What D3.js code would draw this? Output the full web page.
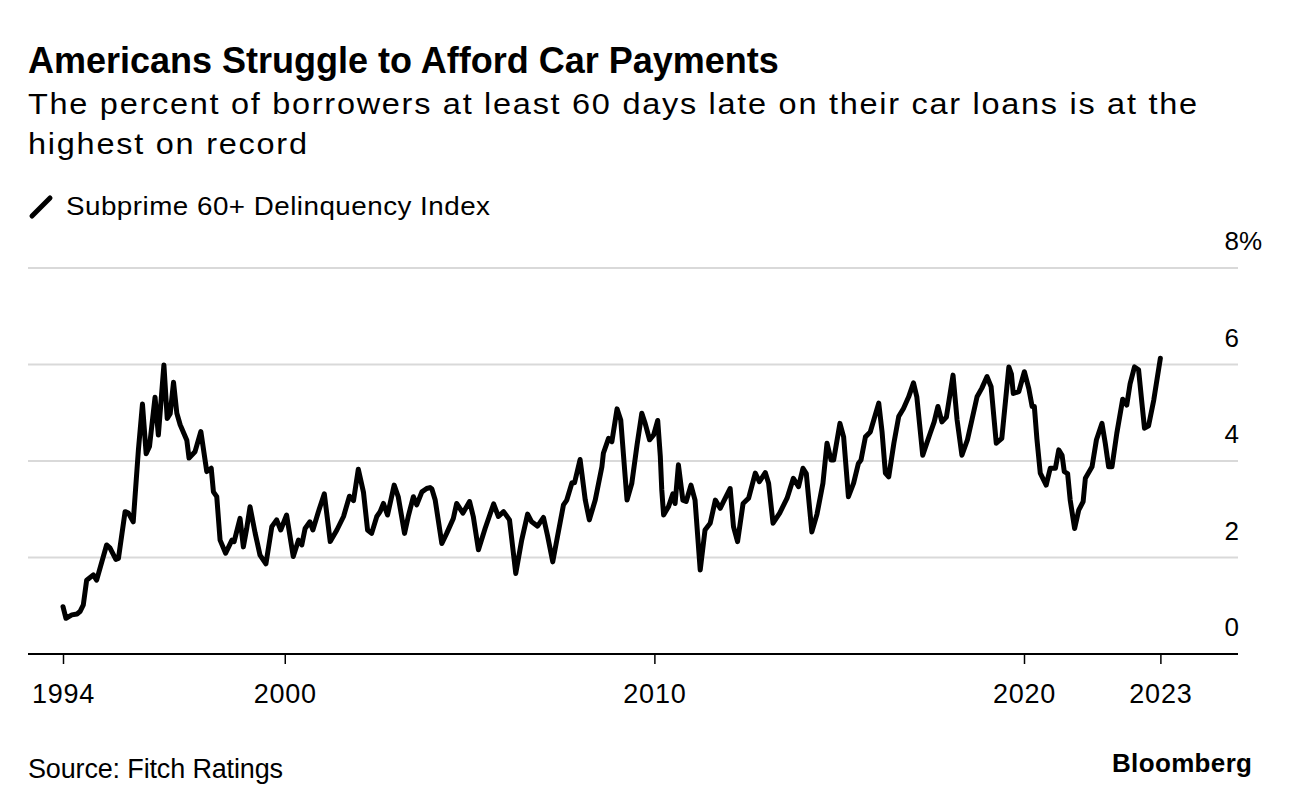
<!DOCTYPE html>
<html>
<head>
<meta charset="utf-8">
<script src="https://cdn.jsdelivr.net/npm/d3@7"></script>
<style>
  html, body { margin: 0; padding: 0; background: #fff; }
  svg { display: block; }
  text { font-family: "Liberation Sans", Arial, Helvetica, sans-serif; fill: #000; }
</style>
</head>
<body>
<svg id="chart" width="1292" height="810"></svg>
<script>
// ---- Data ----
const years = [
  1994.00,1994.08,1994.24,1994.38,1994.46,1994.55,1994.64,1994.82,1994.91,1995.18,1995.27,1995.43,1995.50,1995.68,1995.77,1995.90,
  1996.04,1996.15,1996.25,1996.34,1996.49,1996.58,1996.73,1996.82,1996.90,1996.99,1997.08,1997.17,1997.35,1997.41,1997.57,1997.73,1997.89,
  1998.01,1998.07,1998.16,1998.25,1998.40,1998.57,1998.63,1998.79,1998.88,1998.97,1999.06,1999.20,1999.33,1999.49,1999.65,1999.78,1999.89,
  2000.05,2000.23,2000.37,2000.46,2000.55,2000.68,2000.76,2000.91,2001.07,2001.23,2001.41,2001.59,2001.75,2001.86,2001.99,
  2002.13,2002.24,2002.35,2002.49,2002.58,2002.67,2002.78,2002.96,2003.07,2003.24,2003.35,2003.48,2003.57,2003.71,2003.84,2003.93,
  2003.98,2004.07,2004.25,2004.38,2004.56,2004.65,2004.82,2005.00,2005.10,2005.24,2005.42,2005.65,2005.78,2005.92,
  2006.08,2006.25,2006.41,2006.57,2006.68,2006.84,2007.00,2007.11,2007.25,2007.36,2007.54,2007.63,2007.77,2007.84,2007.99,
  2008.13,2008.24,2008.40,2008.58,2008.62,2008.76,2008.85,2008.99,2009.09,2009.21,2009.26,2009.39,2009.53,2009.66,2009.75,2009.87,2009.98,
  2010.09,2010.16,2010.20,2010.25,2010.38,2010.50,2010.56,2010.65,2010.77,2010.86,2010.99,2011.10,2011.24,2011.37,2011.51,2011.65,2011.78,2011.87,
  2012.05,2012.14,2012.25,2012.40,2012.55,2012.73,2012.84,2013.00,2013.09,2013.21,2013.39,2013.59,2013.76,2013.90,
  2014.02,2014.11,2014.26,2014.40,2014.56,2014.67,2014.78,2014.85,2015.02,2015.12,2015.25,2015.39,2015.52,2015.59,2015.71,2015.84,
  2016.07,2016.16,2016.25,2016.34,2016.48,2016.61,2016.74,2016.88,2017.01,2017.10,2017.26,2017.37,2017.46,2017.57,2017.67,2017.78,2017.90,
  2018.08,2018.19,2018.32,2018.47,2018.59,2018.73,2018.86,2019.00,2019.11,2019.25,2019.40,2019.59,2019.66,2019.71,2019.86,
  2020.01,2020.13,2020.22,2020.28,2020.35,2020.44,2020.60,2020.71,2020.85,2020.94,2021.03,2021.09,2021.18,2021.25,2021.37,2021.48,2021.60,2021.66,2021.84,2021.96,
  2022.11,2022.20,2022.29,2022.38,2022.51,2022.67,2022.78,2022.87,2022.99,2023.10,2023.19,2023.26,2023.37,2023.51,2023.69
];
const delinquency = [
  0.98,0.74,0.81,0.83,0.88,1.02,1.53,1.64,1.53,2.26,2.20,1.96,1.98,2.95,2.92,2.74,
  4.23,5.18,4.15,4.30,5.32,4.54,5.99,4.88,4.98,5.63,4.99,4.75,4.43,4.06,4.19,4.61,3.78,
  3.85,3.36,3.26,2.36,2.09,2.36,2.33,2.81,2.22,2.60,3.05,2.50,2.05,1.87,2.64,2.78,2.57,
  2.88,2.02,2.36,2.26,2.60,2.74,2.57,2.95,3.32,2.33,2.57,2.85,3.27,3.18,3.83,
  3.35,2.57,2.50,2.85,2.95,3.12,2.88,3.50,3.26,2.50,2.88,3.26,3.09,3.36,3.43,3.45,
  3.42,3.19,2.29,2.50,2.81,3.12,2.92,3.16,2.85,2.16,2.60,3.11,2.85,2.95,
  2.78,1.67,2.36,2.90,2.74,2.65,2.83,2.45,1.91,2.36,3.09,3.19,3.55,3.55,4.03,
  3.19,2.78,3.19,3.88,4.16,4.47,4.40,5.08,4.85,3.67,3.19,3.54,4.33,4.99,4.78,4.44,4.54,
  4.84,4.10,3.40,2.88,3.05,3.32,3.12,3.92,3.19,3.16,3.50,3.19,1.74,2.57,2.71,3.19,3.02,3.16,
  3.43,2.64,2.33,3.12,3.23,3.75,3.57,3.76,3.54,2.71,2.92,3.23,3.64,3.47,
  3.85,3.74,2.53,2.90,3.54,4.37,4.02,4.02,4.78,4.50,3.26,3.54,3.95,4.02,4.50,4.60,
  5.20,4.60,3.75,3.67,4.37,4.92,5.09,5.33,5.62,5.33,4.12,4.37,4.57,4.81,5.13,4.81,4.91,
  5.78,4.85,4.12,4.44,4.85,5.33,5.51,5.75,5.54,4.37,4.47,5.95,5.80,5.40,5.44,
  5.85,5.50,5.13,5.13,4.45,3.75,3.50,3.85,3.85,4.23,4.12,3.78,3.74,3.19,2.60,2.98,3.16,3.64,3.88,4.44,
  4.78,4.36,3.88,3.88,4.57,5.28,5.16,5.60,5.95,5.89,5.20,4.68,4.73,5.26,6.13
];
const yTicks = [0, 2, 4, 6, 8];
const xTickYears = [1994, 2000, 2010, 2020];
const lastTickLabel = "2023";

const titleText = "Americans Struggle to Afford Car Payments";
const subtitleLines = ["The percent of borrowers at least 60 days late on their car loans is at the", "highest on record"];
const legendText = "Subprime 60+ Delinquency Index";
const sourceText = "Source: Fitch Ratings";
const brandText = "Bloomberg";

// ---- Layout ----
const svg = d3.select("#chart");
const plotLeft = 28, plotRight = 1238;
const x = d3.scaleLinear().domain([1994, 2020]).range([63, 1024]);
const y = d3.scaleLinear().domain([0, 8]).range([654, 268]);

const data = years.map((yr, i) => ({ yr, v: delinquency[i] }));
const lastYr = years[years.length - 1];

// Title block
svg.append("text").attr("x", 28).attr("y", 73)
  .style("font-size", "36px").style("font-weight", "bold").text(titleText);

// wide-grotesque look: slight horizontal stretch plus tracking
const stretch = 1.12;
const subWidths = [1169, 279];
subtitleLines.forEach((t, i) => {
  svg.append("text")
    .attr("transform", `translate(28,${114 + i * 40}) scale(${stretch},1)`)
    .style("font-size", "29px")
    .attr("textLength", subWidths[i] / stretch).attr("lengthAdjust", "spacing")
    .text(t);
});

// Legend
svg.append("line").attr("x1", 32).attr("y1", 216).attr("x2", 50).attr("y2", 198)
  .attr("stroke", "#000").attr("stroke-width", 5).attr("stroke-linecap", "round");
const legStretch = 1.07;
svg.append("text")
  .attr("transform", `translate(66,215) scale(${legStretch},1)`)
  .style("font-size", "26px")
  .attr("textLength", 424 / legStretch).attr("lengthAdjust", "spacing").text(legendText);

// Grid lines
svg.append("g").selectAll("line").data(yTicks.filter(d => d > 0)).join("line")
  .attr("x1", plotLeft).attr("x2", plotRight)
  .attr("y1", d => y(d)).attr("y2", d => y(d))
  .attr("stroke", "#d9d9d9").attr("stroke-width", 2);

// Y labels (digit right-aligned, % hanging out)
const yl = svg.append("g").selectAll("g").data(yTicks).join("g");
yl.append("text")
  .attr("x", 1239).attr("y", d => y(d) - 18)
  .attr("text-anchor", "end").style("font-size", "26px")
  .text(d => d);
yl.filter(d => d === 8).append("text")
  .attr("x", 1239).attr("y", d => y(d) - 18)
  .style("font-size", "26px").text("%");

// X axis
const xTickVals = xTickYears.concat([lastYr]);
const xAxis = d3.axisBottom(x).tickValues(xTickVals).tickSize(10).tickPadding(0)
  .tickFormat(d => d === lastYr ? lastTickLabel : String(d));
const gx = svg.append("g").attr("transform", `translate(0,${y(0)})`).call(xAxis);
gx.select(".domain").remove();
gx.selectAll(".tick line").attr("stroke", "#000").attr("stroke-width", 1.5);
gx.selectAll(".tick text")
  .attr("y", 49).attr("dy", null)
  .style("font-size", "27px").style("letter-spacing", "0.8px").attr("fill", "#000")
  .style("font-family", '"Liberation Sans", Arial, sans-serif');
svg.append("line").attr("x1", plotLeft).attr("x2", plotRight)
  .attr("y1", y(0)).attr("y2", y(0)).attr("stroke", "#000").attr("stroke-width", 2);

// Line
const line = d3.line().x(d => x(d.yr)).y(d => y(d.v)).curve(d3.curveLinear);
svg.append("path").datum(data).attr("d", line)
  .attr("fill", "none").attr("stroke", "#000").attr("stroke-width", 5)
  .attr("stroke-linejoin", "round").attr("stroke-linecap", "round");

// Footer
svg.append("text").attr("x", 28).attr("y", 778).style("font-size", "27px")
  .attr("textLength", 255).attr("lengthAdjust", "spacing").text(sourceText);
svg.append("text").attr("x", 1252).attr("y", 772).attr("text-anchor", "end")
  .style("font-size", "26px").style("font-weight", "bold")
  .attr("textLength", 140).attr("lengthAdjust", "spacing").text(brandText);
</script>
</body>
</html>
